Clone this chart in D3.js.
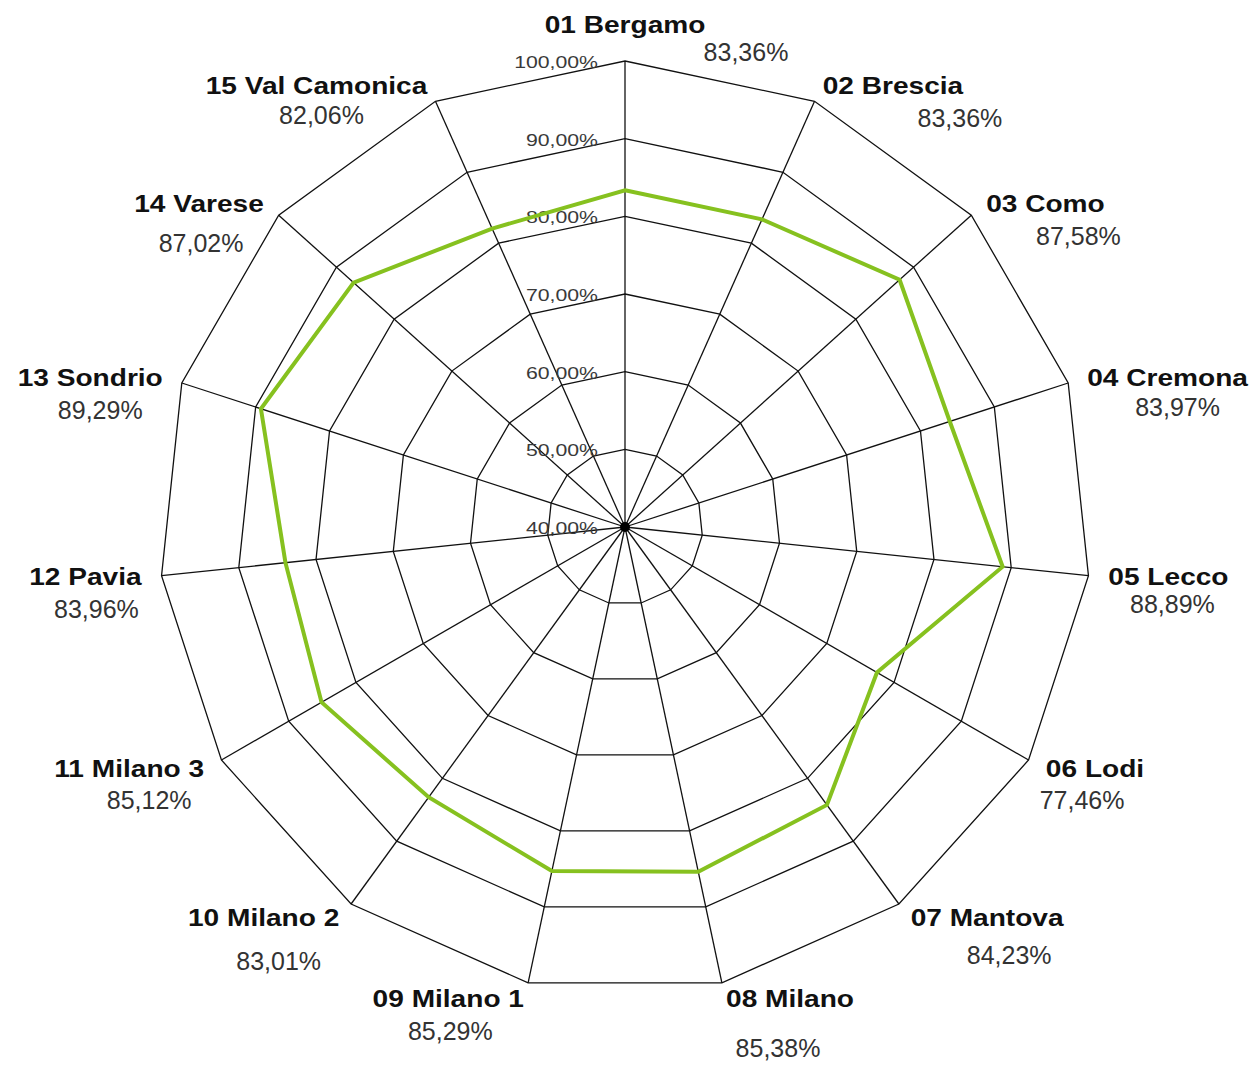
<!DOCTYPE html>
<html>
<head>
<meta charset="utf-8">
<script src="https://cdn.jsdelivr.net/npm/d3@7"></script>
<style>
  body { margin: 0; background: #fff; }
  text { font-family: "Liberation Sans", Arial, sans-serif; }
</style>
</head>
<body>
<div id="chart"></div>
<script>
// province names and values (percent)
const regions = [
  '01 Bergamo', '02 Brescia', '03 Como', '04 Cremona', '05 Lecco',
  '06 Lodi', '07 Mantova', '08 Milano', '09 Milano 1', '10 Milano 2',
  '11 Milano 3', '12 Pavia', '13 Sondrio', '14 Varese', '15 Val Camonica'
];
const values = [
  83.36, 83.36, 87.58, 83.97, 88.89,
  77.46, 84.23, 85.38, 85.29, 83.01,
  85.12, 83.96, 89.29, 87.02, 82.06
];
const ticks = [40, 50, 60, 70, 80, 90, 100];

// small nudges of the value label, relative to the name label (layout only)
const pctNudge = [
  [121, 28], [67, 33], [33, 33], [10, 30], [4, 28],
  [-13, 32], [22, 38], [-12, 50], [2, 33], [15, 44],
  [20, 32], [11, 33], [10, 33], [2, 40], [5, 30]
];

const width = 1259, height = 1066;
const cx = 625, cy = 527, R = 466;
const green = '#86c11f';

const svg = d3.select('#chart')
  .append('svg')
  .attr('width', width)
  .attr('height', height);

const g = svg.append('g').attr('transform', `translate(${cx},${cy})`);

const r = d3.scaleLinear().domain([40, 100]).range([0, R]);
const n = regions.length;
const angle = i => (i * 2 * Math.PI) / n;
const pt = (i, v) => [r(v) * Math.sin(angle(i)), -r(v) * Math.cos(angle(i))];

const fmt = v => v.toFixed(2).replace('.', ',') + '%';

// grid rings
g.selectAll('.ring')
  .data(ticks.slice(1))
  .enter()
  .append('polygon')
  .attr('class', 'ring')
  .attr('points', t => d3.range(n).map(i => pt(i, t).join(',')).join(' '))
  .attr('fill', 'none')
  .attr('stroke', '#111')
  .attr('stroke-width', 1.3);

// spokes
g.selectAll('.spoke')
  .data(d3.range(n))
  .enter()
  .append('line')
  .attr('class', 'spoke')
  .attr('x1', 0)
  .attr('y1', 0)
  .attr('x2', i => pt(i, 100)[0])
  .attr('y2', i => pt(i, 100)[1])
  .attr('stroke', '#111')
  .attr('stroke-width', 1.3);

// tick labels along the top axis
g.selectAll('.tick-label')
  .data(ticks)
  .enter()
  .append('text')
  .attr('class', 'tick-label')
  .attr('transform', t => `translate(-27,${-r(t) + 7}) scale(1.25,1)`)
  .attr('text-anchor', 'end')
  .attr('font-size', '17px')
  .attr('fill', '#3a3a3a')
  .text(fmt);

// data line
const line = d3.lineRadial()
  .angle((d, i) => angle(i))
  .radius(d => r(d))
  .curve(d3.curveLinearClosed);

g.append('path')
  .datum(values)
  .attr('d', line)
  .attr('fill', 'none')
  .attr('stroke', green)
  .attr('stroke-width', 4)
  .attr('stroke-linejoin', 'miter');

g.append('circle')
  .attr('r', 5)
  .attr('fill', '#000');

// labels
const labels = g.selectAll('.label')
  .data(regions)
  .enter()
  .append('g')
  .attr('class', 'label');

labels.each(function(name, i) {
  const a = angle(i);
  const [vx, vy] = pt(i, 100);
  const s = Math.sin(a), c = Math.cos(a);
  let x, y, anchor;
  if (i === 0) {
    x = vx; y = vy - 28; anchor = 'middle';
  } else {
    x = vx + 20 * s;
    y = vy + 8 - 17 * c;
    anchor = s > 0 ? 'start' : 'end';
  }
  const sel = d3.select(this);
  const nameText = sel.append('text')
    .attr('x', x)
    .attr('y', y)
    .attr('text-anchor', anchor)
    .attr('font-size', '24px')
    .attr('font-weight', 'bold')
    .attr('fill', '#111')
    .text(name);
  const w = nameText.node().getComputedTextLength() * 1.17;
  nameText.attr('textLength', w).attr('lengthAdjust', 'spacingAndGlyphs');

  let center = x;
  if (anchor === 'start') center = x + w / 2;
  if (anchor === 'end') center = x - w / 2;

  sel.append('text')
    .attr('x', center + pctNudge[i][0])
    .attr('y', y + pctNudge[i][1])
    .attr('text-anchor', 'middle')
    .attr('font-size', '25px')
    .attr('fill', '#333')
    .text(fmt(values[i]));
});
</script>
</body>
</html>
